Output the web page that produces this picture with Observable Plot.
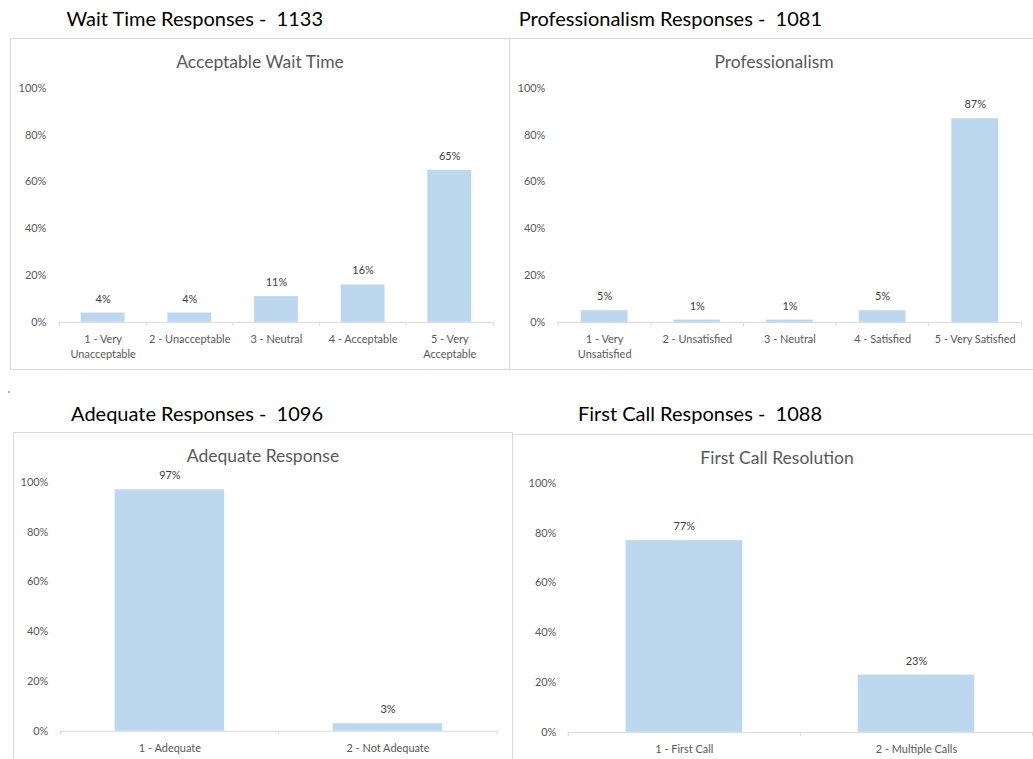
<!DOCTYPE html>
<html><head><meta charset="utf-8">
<script src="https://cdn.jsdelivr.net/npm/d3@7"></script>
<script src="https://cdn.jsdelivr.net/npm/@observablehq/plot@0.6"></script>
<style>
body{margin:0;width:1033px;height:759px;overflow:hidden;background:#fff;position:relative;font-family:Lato,"Open Sans",sans-serif;}
.box{position:absolute;border:1px solid #d9d9d9;box-sizing:border-box;overflow:hidden;}
.head{position:absolute;font-size:20px;color:#000;white-space:pre;text-align:right;line-height:1;}
.title{position:absolute;left:0;right:0;font-size:17.5px;color:#595959;text-align:center;white-space:nowrap;line-height:1;}
.chart{position:absolute;left:0;top:0;}
.dot{position:absolute;left:8px;top:391px;width:2px;height:2px;background:#9fb4ea;}
</style></head><body>
<div class="dot"></div>
<script>
// ---- data ----
const waitCategories = ["1 - Very Unacceptable", "2 - Unacceptable", "3 - Neutral", "4 - Acceptable", "5 - Very Acceptable"];
const waitTickLabels = ["1 - Very\nUnacceptable", "2 - Unacceptable", "3 - Neutral", "4 - Acceptable", "5 - Very\nAcceptable"];
const waitValues = [0.04, 0.04, 0.11, 0.16, 0.65];

const profCategories = ["1 - Very Unsatisfied", "2 - Unsatisfied", "3 - Neutral", "4 - Satisfied", "5 - Very Satisfied"];
const profTickLabels = ["1 - Very\nUnsatisfied", "2 - Unsatisfied", "3 - Neutral", "4 - Satisfied", "5 - Very Satisfied"];
const profValues = [0.05, 0.01, 0.01, 0.05, 0.87];

const adequateCategories = ["1 - Adequate", "2 - Not Adequate"];
const adequateTickLabels = ["1 - Adequate", "2 - Not Adequate"];
const adequateValues = [0.97, 0.03];

const firstCallCategories = ["1 - First Call", "2 - Multiple Calls"];
const firstCallTickLabels = ["1 - First Call", "2 - Multiple Calls"];
const firstCallValues = [0.77, 0.23];

const yTicks = [0, 0.2, 0.4, 0.6, 0.8, 1];
const pct = d => Math.round(d * 100) + "%";

// ---- layout ----
function panel(cfg) {
  const head = document.createElement("div");
  head.className = "head";
  head.textContent = cfg.head;
  head.style.right = (1033 - cfg.headRight) + "px";
  head.style.top = cfg.headTop + "px";
  document.body.appendChild(head);

  const box = document.createElement("div");
  box.className = "box";
  Object.assign(box.style, {left: cfg.left + "px", top: cfg.top + "px", width: cfg.boxW + "px", height: cfg.boxH + "px"});
  document.body.appendChild(box);

  const title = document.createElement("div");
  title.className = "title";
  title.textContent = cfg.title;
  title.style.top = cfg.titleTop + "px";

  const data = cfg.cats.map((c, i) => ({c, v: cfg.values[i], label: cfg.labels[i]}));
  const n = cfg.cats.length;
  const step = (cfg.width - cfg.ml - cfg.mr) / n;
  const tickStyle = {y1: 0, y2: 0, insetTop: 0, insetBottom: -4, stroke: "#d9d9d9"};
  const chart = Plot.plot({
    width: cfg.width, height: cfg.height,
    marginTop: cfg.mt, marginBottom: cfg.mb, marginLeft: cfg.ml, marginRight: cfg.mr,
    style: {fontFamily: "Lato, 'Open Sans', sans-serif", fontSize: "11px", background: "transparent", overflow: "visible"},
    x: {domain: cfg.cats, paddingInner: 0.5, paddingOuter: 0.25, axis: null},
    y: {domain: [0, 1], axis: null},
    marks: [
      Plot.axisY({ticks: yTicks, tickSize: 0, tickPadding: 12, tickFormat: pct, color: "#595959", fontSize: 11, label: null}),
      Plot.barY(data, {x: "c", y: "v", fill: "#bdd7ee"}),
      Plot.ruleY([0], {stroke: "#d9d9d9"}),
      Plot.ruleX(cfg.cats, {x: d => d, dx: -step / 2, ...tickStyle}),
      Plot.ruleX([cfg.cats[n - 1]], {x: d => d, dx: step / 2, ...tickStyle}),
      Plot.text(data, {x: "c", y: "v", text: d => pct(d.v), dy: -14, fill: "#404040", fontSize: 11}),
      Plot.text(data, {x: "c", text: "label", frameAnchor: "bottom", lineAnchor: "top", dy: 10, lineHeight: 1.35, fill: "#595959", fontSize: 11})
    ]
  });
  chart.classList.add("chart");
  box.appendChild(chart);
  box.appendChild(title);
}

panel({head: "Wait Time Responses -  1133", headRight: 323, headTop: 8,
  left: 10, top: 38, boxW: 500, boxH: 332, titleTop: 14,
  width: 500, height: 332, mt: 49, mb: 48, ml: 47, mr: 16,
  title: "Acceptable Wait Time", cats: waitCategories, labels: waitTickLabels, values: waitValues});

panel({head: "Professionalism Responses -  1081", headRight: 822, headTop: 8,
  left: 509, top: 38, boxW: 530, boxH: 332, titleTop: 14,
  width: 530, height: 332, mt: 49, mb: 48, ml: 47, mr: 17,
  title: "Professionalism", cats: profCategories, labels: profTickLabels, values: profValues});

panel({head: "Adequate Responses -  1096", headRight: 323, headTop: 403,
  left: 13, top: 432, boxW: 500, boxH: 340, titleTop: 14,
  width: 500, height: 340, mt: 49, mb: 41, ml: 46, mr: 15,
  title: "Adequate Response", cats: adequateCategories, labels: adequateTickLabels, values: adequateValues});

panel({head: "First Call Responses -  1088", headRight: 822, headTop: 403,
  left: 512, top: 434, boxW: 530, boxH: 340, titleTop: 14,
  width: 530, height: 340, mt: 48, mb: 42, ml: 55, mr: 9,
  title: "First Call Resolution", cats: firstCallCategories, labels: firstCallTickLabels, values: firstCallValues});
</script>
</body></html>
